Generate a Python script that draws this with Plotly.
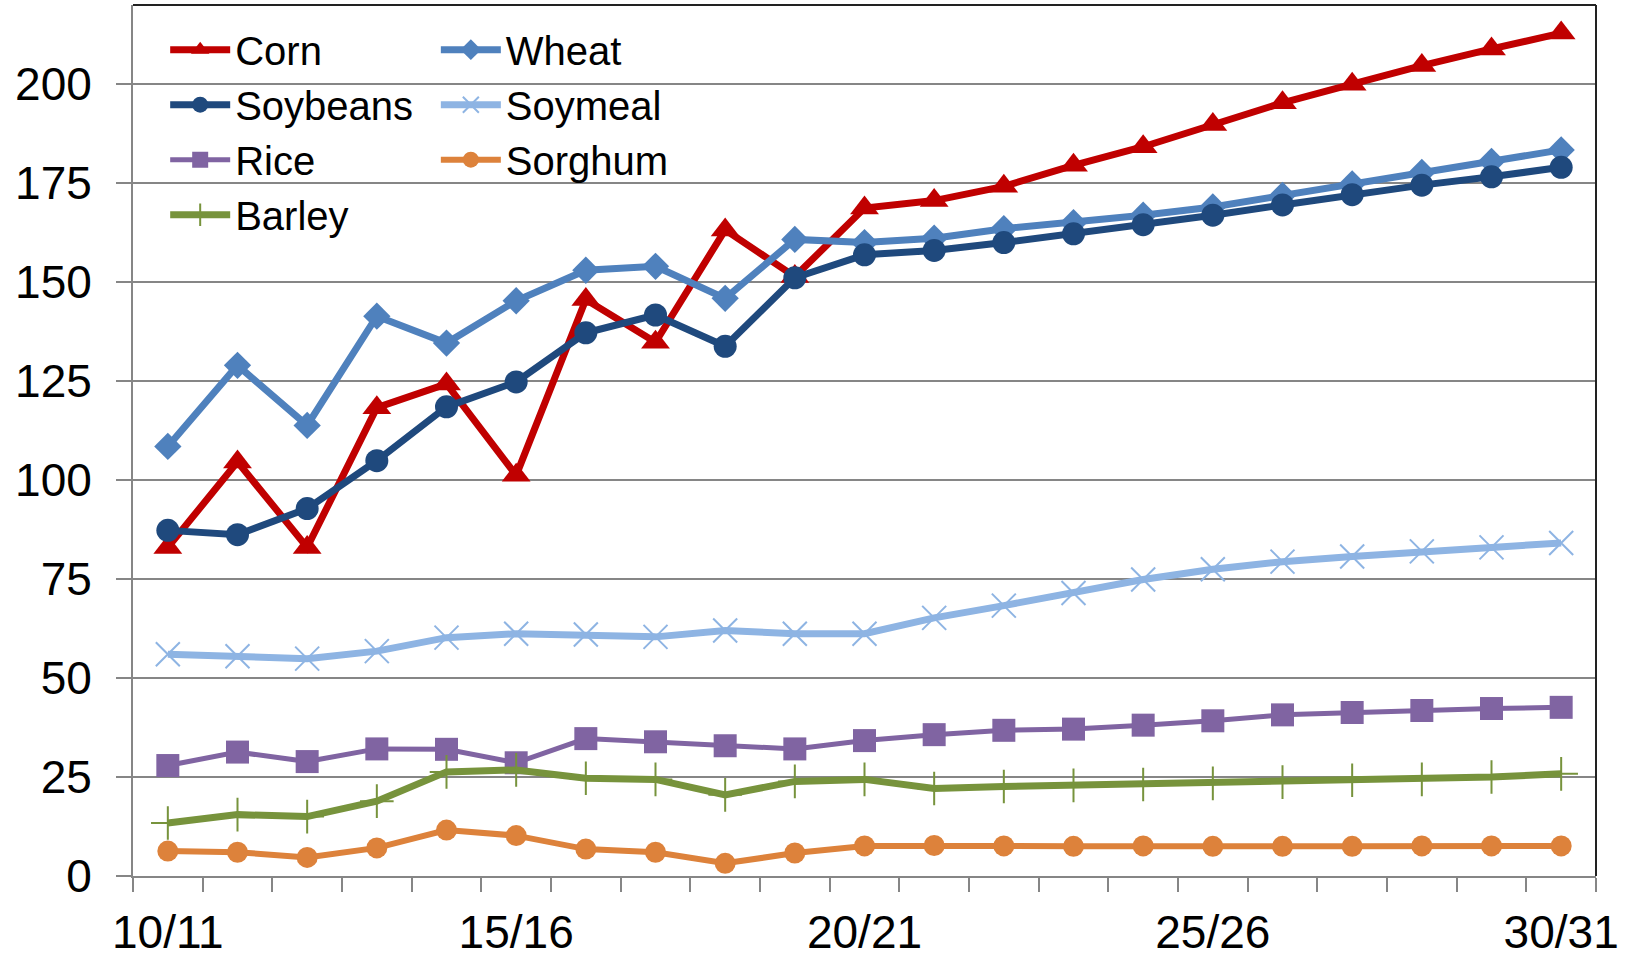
import plotly.graph_objects as go

years = ["10/11", "11/12", "12/13", "13/14", "14/15", "15/16", "16/17", "17/18", "18/19", "19/20",
         "20/21", "21/22", "22/23", "23/24", "24/25", "25/26", "26/27", "27/28", "28/29", "29/30", "30/31"]
tick_labels = ["10/11", "", "", "", "", "15/16", "", "", "", "", "20/21", "", "", "", "", "25/26",
               "", "", "", "", "30/31"]

corn = [83.0, 104.6, 83.0, 118.3, 124.3, 101.2, 145.6, 134.8, 163.2, 151.4, 168.7, 170.6, 174.2,
        179.5, 184.2, 189.8, 195.3, 200.0, 204.7, 208.9, 212.9]
wheat = [108.5, 129.0, 113.8, 141.4, 134.6, 145.3, 153.0, 154.0, 145.9, 160.8, 160.0, 161.1, 163.5,
         165.0, 166.9, 169.0, 171.9, 174.8, 177.7, 180.5, 183.4]
soybeans = [87.3, 86.2, 92.8, 104.9, 118.5, 124.8, 137.2, 141.7, 133.8, 151.1, 156.9, 158.0, 160.0,
            162.2, 164.5, 166.9, 169.5, 172.1, 174.5, 176.6, 179.0]
soymeal = [56.0, 55.5, 54.9, 56.8, 60.2, 61.2, 61.0, 60.4, 62.0, 61.2, 61.2, 65.2, 68.3, 71.5, 74.9,
           77.5, 79.4, 80.7, 82.0, 83.0, 84.1]
rice = [27.9, 31.3, 28.9, 32.1, 32.0, 28.6, 34.7, 33.9, 32.9, 32.1, 34.2, 35.7, 36.8, 37.1, 38.1,
        39.2, 40.7, 41.3, 41.8, 42.3, 42.6]
sorghum = [6.3, 6.0, 4.7, 7.1, 11.6, 10.2, 6.8, 6.0, 3.2, 5.8, 7.6, 7.7, 7.6, 7.5, 7.6, 7.5, 7.5,
           7.5, 7.6, 7.6, 7.6]
barley = [13.4, 15.5, 15.0, 18.9, 26.3, 26.8, 24.7, 24.4, 20.5, 23.9, 24.4, 22.1, 22.6, 22.9, 23.1,
          23.4, 23.7, 24.2, 24.4, 25.0, 25.8]

# name, values, color, symbol, marker size, marker line width, line width, legend
series = [
    ("Corn", corn, "#C00000", "triangle-up", 25, 0, 7, "legend"),
    ("Wheat", wheat, "#4F81BD", "diamond", 21, 0, 7, "legend2"),
    ("Soybeans", soybeans, "#1F497D", "circle", 23, 0, 7, "legend"),
    ("Soymeal", soymeal, "#8EB4E3", "x-thin", 24, 2, 7, "legend2"),
    ("Rice", rice, "#8064A2", "square", 23, 0, 5, "legend"),
    ("Sorghum", sorghum, "#DD823B", "circle", 21, 0, 6, "legend2"),
    ("Barley", barley, "#77933C", "cross-thin", 24, 2, 7, "legend"),
]

fig = go.Figure()
for name, vals, color, sym, size, mlw, lw, leg in series:
    mk = dict(symbol=sym, size=size, color=color)
    mk["line"] = dict(color=color, width=mlw)
    fig.add_trace(go.Scatter(
        x=years, y=vals, name=name, mode="lines+markers",
        line=dict(color=color, width=lw), marker=mk, legend=leg,
    ))

font_family = "Liberation Sans, Arial, sans-serif"
fig.update_layout(
    width=1629, height=957,
    margin=dict(l=133, r=33, t=5, b=81),
    paper_bgcolor="white", plot_bgcolor="white",
    font=dict(family=font_family, color="black"),
    showlegend=True,
    legend=dict(x=0.022, y=0.986, xanchor="left", yanchor="top", bgcolor="rgba(0,0,0,0)",
                font=dict(size=40, family=font_family), tracegroupgap=0, itemwidth=60,
                traceorder="normal"),
    legend2=dict(x=0.207, y=0.986, xanchor="left", yanchor="top", bgcolor="rgba(0,0,0,0)",
                 font=dict(size=40, family=font_family), tracegroupgap=0, itemwidth=60,
                 traceorder="normal"),
    xaxis=dict(
        type="category", categoryorder="array", categoryarray=years,
        tickmode="array", tickvals=years, ticktext=tick_labels, tickangle=0, automargin=False,
        tickson="boundaries", ticks="outside", ticklen=14, tickwidth=2, tickcolor="#868686",
        showline=True, linecolor="#868686", linewidth=2, showgrid=False,
        tickfont=dict(size=46), range=[-0.5, 20.5], ticklabelstandoff=15,
    ),
    yaxis=dict(
        range=[0, 220], tickmode="array", tickvals=[0, 25, 50, 75, 100, 125, 150, 175, 200],
        ticks="outside", ticklen=15, tickwidth=2, tickcolor="#868686", automargin=False,
        showline=True, linecolor="#868686", linewidth=2,
        showgrid=True, gridcolor="#868686", gridwidth=2, zeroline=False,
        tickfont=dict(size=46), ticklabelstandoff=15,
    ),
    shapes=[
        dict(type="rect", xref="paper", yref="paper", x0=0.002, x1=0.387, y0=0.738, y1=0.995,
             fillcolor="white", line=dict(width=0), layer="between"),
        dict(type="line", xref="paper", yref="paper", x0=0, x1=1, y0=1, y1=1,
             line=dict(color="#222222", width=2)),
        dict(type="line", xref="paper", yref="paper", x0=1, x1=1, y0=0, y1=1,
             line=dict(color="#222222", width=2)),
    ],
)

fig.write_html("out.html", config={"displayModeBar": False},
               post_script="document.body.style.margin='0';")
